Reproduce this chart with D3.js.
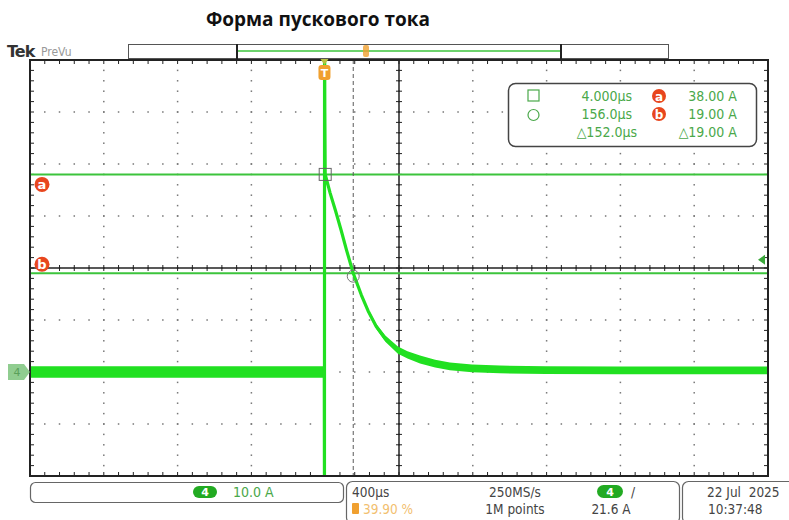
<!DOCTYPE html>
<html><head><meta charset="utf-8">
<script src="https://cdn.jsdelivr.net/npm/d3@7"></script>
<style>
body{margin:0;background:#fff;}
svg{display:block;}
.mono{font-family:"Liberation Sans Narrow","DejaVu Sans Condensed","Liberation Sans",sans-serif;}
</style></head>
<body>
<svg id="c" width="789" height="520"></svg>
<script>
// ---- data ----
const title = "Форма пускового тока";
const timeDomainUs = [-1596, 2404];          // 400 µs/div, trigger at 39.90 %
const ampDomainA = [-20, 60];                // 10.0 A/div, ground 2 div below centre
const traceT = [-1596, -1, 0, 0.5, 1, 2, 4, 30, 60, 90, 120, 156, 200, 236, 280, 330, 398, 450, 518, 600, 680, 800, 951, 1200, 1600, 2000, 2404];
const traceA = [0, 0, -22, 62, 62, 50, 38, 34.5, 31, 27.3, 23.4, 19, 14.8, 11.8, 8.8, 6.4, 4.2, 3.3, 2.4, 1.6, 1.1, 0.7, 0.5, 0.35, 0.3, 0.3, 0.3];
const traceNoise = [1.1, 1.1, 0, 0, 0, 0, 0.3, 0.3, 0.3, 0.3, 0.3, 0.3, 0.3, 0.4, 0.5, 0.6, 0.7, 0.7, 0.75, 0.75, 0.75, 0.75, 0.75, 0.75, 0.75, 0.75, 0.75];
const cursorTimes = [4.0, 156.0];
const cursorAmps = [38.0, 19.0];
const triggerLevelA = 21.6;
const readoutRows = [["4.000µs", "a", "38.00 A"], ["156.0µs", "b", "19.00 A"], ["△152.0µs", "", "△19.00 A"]];
const statusTexts = {ch: "4", scale: "10.0 A", time: "400µs", trigPos: "39.90 %", rate: "250MS/s", points: "1M points", trigLevel: "21.6 A", date: "22 Jul  2025", clock: "10:37:48"};

// ---- layout ----
const svg = d3.select("#c");
const L = 30, R = 768, T = 60, B = 476;
const x = d3.scaleLinear().domain(timeDomainUs).range([L, R]);
const y = d3.scaleLinear().domain(ampDomainA).range([B, T]);
const GREEN = "#21e021", CUR = "#3cc43c", TXT = "#4aa84a", RED = "#e8461e", ORANGE = "#f0a030";

// title
svg.append("text").attr("x", 318).attr("y", 26).attr("text-anchor", "middle")
  .attr("font-family", "'Open Sans','DejaVu Sans',sans-serif").attr("font-weight", "bold")
  .attr("font-size", 19).attr("fill", "#111").text(title);

// Tek PreVu
svg.append("text").attr("x", 7).attr("y", 57).attr("font-family", "'DejaVu Sans',sans-serif")
  .attr("font-weight", "bold").attr("font-size", 16).attr("fill", "#333").attr("letter-spacing", -1).text("Tek");
svg.append("text").attr("x", 41).attr("y", 56).attr("class", "mono").attr("font-size", 12).attr("fill", "#999").text("PreVu");

// record bar
svg.append("rect").attr("x", 128.5).attr("y", 44.5).attr("width", 540).attr("height", 14).attr("fill", "#fff").attr("stroke", "#555");
svg.append("line").attr("x1", 237).attr("x2", 561).attr("y1", 51).attr("y2", 51).attr("stroke", CUR).attr("stroke-width", 1.5);
[237, 561].forEach(px => svg.append("line").attr("x1", px).attr("x2", px).attr("y1", 44).attr("y2", 59).attr("stroke", "#222").attr("stroke-width", 2));
svg.append("rect").attr("x", 363).attr("y", 45).attr("width", 6).attr("height", 12).attr("rx", 2).attr("fill", ORANGE).attr("opacity", 0.8);

// grid
const g = svg.append("g");
const xDivs = d3.range(0, 11).map(i => timeDomainUs[0] + i * 400);
const yDivs = d3.range(0, 9).map(i => ampDomainA[0] + i * 10);
const xMinor = d3.range(0, 51).map(i => timeDomainUs[0] + i * 80);
const yMinor = d3.range(0, 41).map(i => ampDomainA[0] + i * 2);
yDivs.slice(1, -1).forEach(a => {
  xMinor.forEach(t => g.append("rect").attr("x", x(t) - 0.75).attr("y", y(a) - 0.75).attr("width", 1.5).attr("height", 1.5).attr("fill", "#777"));
});
xDivs.slice(1, -1).forEach(t => {
  yMinor.forEach(a => g.append("rect").attr("x", x(t) - 0.75).attr("y", y(a) - 0.75).attr("width", 1.5).attr("height", 1.5).attr("fill", "#777"));
});
const cx = x(xDivs[5]), cy = y(yDivs[4]);
g.append("line").attr("x1", cx).attr("x2", cx).attr("y1", T).attr("y2", B).attr("stroke", "#222").attr("stroke-width", 1.5);
g.append("line").attr("x1", L).attr("x2", R).attr("y1", cy).attr("y2", cy).attr("stroke", "#222").attr("stroke-width", 1.5);
xMinor.forEach(t => {
  g.append("line").attr("x1", x(t)).attr("x2", x(t)).attr("y1", cy - 3).attr("y2", cy + 3).attr("stroke", "#222");
  g.append("line").attr("x1", x(t)).attr("x2", x(t)).attr("y1", T).attr("y2", T + 4).attr("stroke", "#222");
  g.append("line").attr("x1", x(t)).attr("x2", x(t)).attr("y1", B - 4).attr("y2", B).attr("stroke", "#222");
});
yMinor.forEach(a => {
  g.append("line").attr("x1", cx - 3).attr("x2", cx + 3).attr("y1", y(a)).attr("y2", y(a)).attr("stroke", "#222");
  g.append("line").attr("x1", L).attr("x2", L + 4).attr("y1", y(a)).attr("y2", y(a)).attr("stroke", "#222");
  g.append("line").attr("x1", R - 4).attr("x2", R).attr("y1", y(a)).attr("y2", y(a)).attr("stroke", "#222");
});
svg.append("rect").attr("x", L).attr("y", T).attr("width", R - L).attr("height", B - T).attr("fill", "none").attr("stroke", "#222").attr("stroke-width", 2);

svg.append("clipPath").attr("id", "clip").append("rect").attr("x", L + 1).attr("y", T + 1).attr("width", R - L - 2).attr("height", B - T - 2);

// cursors
const cg = svg.append("g").attr("clip-path", "url(#clip)");
cursorAmps.forEach(a => cg.append("line").attr("x1", L).attr("x2", R).attr("y1", y(a)).attr("y2", y(a)).attr("stroke", CUR).attr("stroke-width", 2));
cursorTimes.forEach(t => cg.append("line").attr("x1", x(t)).attr("x2", x(t)).attr("y1", T).attr("y2", B).attr("stroke", "#5a5a5a").attr("stroke-width", 1).attr("stroke-dasharray", "4,3"));

// trace
const pts = traceT.map((t, i) => ({t, a: traceA[i], n: traceNoise[i]}));
cg.append("path").datum(pts).attr("fill", GREEN)
  .attr("d", d3.area().x(d => x(d.t)).y0(d => y(d.a - d.n)).y1(d => y(d.a + d.n)));
cg.append("path").datum(pts).attr("fill", "none").attr("stroke", GREEN).attr("stroke-width", 3.2).attr("stroke-linejoin", "round")
  .attr("d", d3.line().x(d => x(d.t)).y(d => y(d.a)));

// cursor markers
svg.append("rect").attr("x", x(cursorTimes[0]) - 6).attr("y", y(cursorAmps[0]) - 6).attr("width", 12).attr("height", 12).attr("fill", "none").attr("stroke", "#666").attr("stroke-width", 1);
svg.append("circle").attr("cx", x(cursorTimes[1])).attr("cy", y(cursorAmps[1]) + 3).attr("r", 6).attr("fill", "none").attr("stroke", "#777").attr("stroke-width", 1);

// trigger time marker
const tx = x(0);
svg.append("path").attr("d", `M${tx - 4},${T - 1} L${tx + 4},${T - 1} L${tx},${T + 5} Z`).attr("fill", "#b8c040");
svg.append("rect").attr("x", tx - 6).attr("y", T + 5).attr("width", 12).attr("height", 15).attr("rx", 3).attr("fill", ORANGE);
svg.append("text").attr("x", tx).attr("y", T + 17).attr("text-anchor", "middle").attr("font-size", 11).attr("font-weight", "bold").attr("fill", "#fff").attr("font-family", "'DejaVu Sans',sans-serif").text("T");

// a / b markers
[["a", cursorAmps[0], 10], ["b", cursorAmps[1], -9]].forEach(([lab, a, off]) => {
  svg.append("circle").attr("cx", 42).attr("cy", y(a) + off).attr("r", 7.5).attr("fill", RED);
  svg.append("text").attr("x", 42).attr("y", y(a) + off + 4.5).attr("text-anchor", "middle").attr("font-size", 13).attr("font-weight", "bold").attr("fill", "#fff").attr("font-family", "'DejaVu Sans',sans-serif").text(lab);
});

// ground marker
const gy = y(0);
svg.append("path").attr("d", `M8,${gy - 8} L24,${gy - 8} L30,${gy} L24,${gy + 8} L8,${gy + 8} Z`).attr("fill", "#7cc47c").attr("opacity", 0.85);
svg.append("text").attr("x", 17).attr("y", gy + 4).attr("text-anchor", "middle").attr("font-size", 11).attr("fill", "#5aa05a").attr("font-family", "'DejaVu Sans',sans-serif").text(statusTexts.ch);

// trigger level arrow
const ty = y(triggerLevelA);
svg.append("path").attr("d", `M758,${ty} L765,${ty - 5} L765,${ty + 5} Z`).attr("fill", "#3aa83a");

// readout box
svg.append("rect").attr("x", 508.5).attr("y", 83.5).attr("width", 248).attr("height", 63).attr("rx", 7).attr("fill", "#fff").attr("stroke", "#444").attr("stroke-width", 1.5);
svg.append("rect").attr("x", 528).attr("y", 90).attr("width", 11).attr("height", 11).attr("fill", "none").attr("stroke", TXT).attr("stroke-width", 1.2);
svg.append("circle").attr("cx", 533.5).attr("cy", 115).attr("r", 5.5).attr("fill", "none").attr("stroke", TXT).attr("stroke-width", 1.2);
readoutRows.forEach((row, i) => {
  const by = 101 + i * 18;
  svg.append("text").attr("class", "mono").attr("x", i === 2 ? 637 : 632).attr("y", by).attr("text-anchor", "end").attr("font-size", 14).attr("fill", TXT).text(row[0]);
  if (row[1]) {
    svg.append("circle").attr("cx", 659).attr("cy", by - 5).attr("r", 7).attr("fill", RED);
    svg.append("text").attr("x", 659).attr("y", by - 0.5).attr("text-anchor", "middle").attr("font-size", 12).attr("font-weight", "bold").attr("fill", "#fff").attr("font-family", "'DejaVu Sans',sans-serif").text(row[1]);
  }
  svg.append("text").attr("class", "mono").attr("x", 737).attr("y", by).attr("text-anchor", "end").attr("font-size", 14).attr("fill", TXT).text(row[2]);
});

// status bar
svg.append("rect").attr("x", 30.5).attr("y", 482.5).attr("width", 313).attr("height", 20).attr("rx", 5).attr("fill", "#fff").attr("stroke", "#666").attr("stroke-width", 1.2);
svg.append("rect").attr("x", 193).attr("y", 486).attr("width", 24).attr("height", 12).attr("rx", 6).attr("fill", "#22aa22");
svg.append("text").attr("x", 205).attr("y", 496).attr("text-anchor", "middle").attr("font-size", 11).attr("font-weight", "bold").attr("fill", "#fff").attr("font-family", "'DejaVu Sans',sans-serif").text(statusTexts.ch);
svg.append("text").attr("class", "mono").attr("x", 233).attr("y", 497).attr("font-size", 14).attr("fill", TXT).text(statusTexts.scale);

svg.append("rect").attr("x", 346.5).attr("y", 481.5).attr("width", 333).attr("height", 42).attr("rx", 6).attr("fill", "#fff").attr("stroke", "#666").attr("stroke-width", 1.2);
svg.append("rect").attr("x", 682.5).attr("y", 481.5).attr("width", 120).attr("height", 42).attr("rx", 6).attr("fill", "#fff").attr("stroke", "#666").attr("stroke-width", 1.2);
svg.append("text").attr("class", "mono").attr("x", 352).attr("y", 497).attr("font-size", 13.5).attr("fill", "#444").text(statusTexts.time);
svg.append("rect").attr("x", 352).attr("y", 503).attr("width", 7).attr("height", 11).attr("rx", 1).attr("fill", ORANGE);
svg.append("text").attr("class", "mono").attr("x", 363).attr("y", 514).attr("font-size", 13.5).attr("fill", "#f2c070").text(statusTexts.trigPos);
svg.append("text").attr("class", "mono").attr("x", 515).attr("y", 497).attr("text-anchor", "middle").attr("font-size", 13.5).attr("fill", "#444").text(statusTexts.rate);
svg.append("text").attr("class", "mono").attr("x", 515).attr("y", 514).attr("text-anchor", "middle").attr("font-size", 13.5).attr("fill", "#444").text(statusTexts.points);
svg.append("rect").attr("x", 597).attr("y", 485).attr("width", 26).attr("height", 13).attr("rx", 6.5).attr("fill", "#22aa22");
svg.append("text").attr("x", 610).attr("y", 495.5).attr("text-anchor", "middle").attr("font-size", 11).attr("font-weight", "bold").attr("fill", "#fff").attr("font-family", "'DejaVu Sans',sans-serif").text(statusTexts.ch);
svg.append("text").attr("class", "mono").attr("x", 631).attr("y", 497).attr("font-size", 13.5).attr("fill", "#444").text("/");
svg.append("text").attr("class", "mono").attr("x", 611).attr("y", 514).attr("text-anchor", "middle").attr("font-size", 13.5).attr("fill", "#444").text(statusTexts.trigLevel);
svg.append("text").attr("class", "mono").attr("x", 707).attr("y", 497).attr("font-size", 13.5).attr("fill", "#444").style("white-space", "pre").text(statusTexts.date);
svg.append("text").attr("class", "mono").attr("x", 708).attr("y", 514).attr("font-size", 13.5).attr("fill", "#444").text(statusTexts.clock);
</script>
</body></html>
